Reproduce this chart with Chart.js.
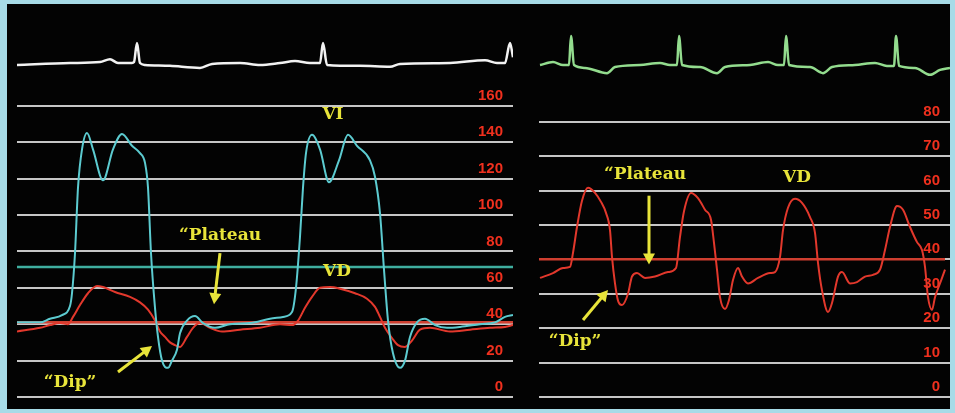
<!DOCTYPE html>
<html>
<head>
<meta charset="utf-8">
<title>Constrictive pericarditis - dip and plateau</title>
<script src="https://cdn.jsdelivr.net/npm/chart.js@4.4.1/dist/chart.umd.min.js"></script>
<style>
  html, body { margin: 0; padding: 0; width: 955px; height: 413px; overflow: hidden; background: #a7dbe7; }
  #panel { position: absolute; left: 7px; top: 4px; width: 943px; height: 405px; background: #030303; }
  .box { position: absolute; }
  #leftBox { left: 17px; top: 10px; width: 496px; height: 407px; }
  #rightBox { left: 539px; top: 5px; width: 411px; height: 412px; }
</style>
</head>
<body>
<div id="panel"></div>
<div class="box" id="leftBox"><canvas id="leftChart"></canvas></div>
<div class="box" id="rightBox"><canvas id="rightChart"></canvas></div>
<script>
// ---- left tracing: LV (VI) + RV (VD), mmHg, time in ms ----
const LEFT_TICKS = [0, 20, 40, 60, 80, 100, 120, 140, 160];

const VI_T = [0, 115, 165, 225, 265, 275, 290, 305, 325, 350, 380, 430, 480, 525, 575, 615, 640, 655, 670, 690, 705, 725, 755, 775, 800, 815, 850, 890, 930, 990, 1065, 1165, 1265, 1330, 1375, 1395, 1415, 1430, 1445, 1475, 1515, 1560, 1610, 1655, 1700, 1765, 1790, 1815, 1835, 1855, 1880, 1915, 1940, 1965, 2000, 2040, 2090, 2150, 2215, 2315, 2390, 2440, 2480];
const VI_P = [41, 41, 43, 45, 50, 57, 79, 115, 136, 145, 136, 119, 136, 144.5, 138, 134, 128.6, 115, 79, 49, 33, 20, 16, 20, 26, 35, 42, 44.5, 40.6, 38, 40, 40.6, 43, 44, 46.7, 60, 88, 115, 134, 144, 136, 118, 130, 144, 138, 130, 121, 101, 70, 42, 24, 16, 20, 33, 41, 43, 39.5, 38, 38.5, 40, 41, 44, 45];

const VD_T = [0, 115, 165, 215, 255, 280, 315, 355, 400, 430, 490, 565, 615, 655, 690, 715, 740, 765, 790, 815, 850, 880, 915, 965, 1025, 1115, 1215, 1315, 1375, 1405, 1440, 1475, 1515, 1565, 1615, 1690, 1750, 1790, 1815, 1840, 1875, 1905, 1940, 1975, 2015, 2065, 2165, 2265, 2365, 2440, 2480];
const VD_P = [36, 38, 39.5, 40.6, 40, 44, 50.5, 57, 61, 60.4, 57.7, 55, 52, 48, 42, 36, 33, 30, 28.5, 27.5, 33, 38, 40.6, 38, 36, 37, 38, 40, 39.5, 42, 49, 55, 60, 60.4, 59.5, 57, 54, 49.5, 44, 38, 32.4, 28.5, 27.5, 31, 37, 38, 36, 37, 38, 38.5, 39.5];

const VI_REF = 71.4;
const VD_REF = 41;

const ECG1_T = [0, 265, 415, 465, 505, 575, 585, 600, 615, 640, 765, 915, 975, 1115, 1215, 1315, 1390, 1465, 1515, 1530, 1550, 1715, 1865, 1915, 2165, 2340, 2400, 2440, 2465, 2480];
const ECG1_V = [-0.1, 0, 0.05, 0.2, 0, 0, 0.05, 1.05, 0, -0.1, -0.15, -0.26, -0.05, 0, -0.1, 0, 0.1, 0, 0, 1.05, -0.1, -0.15, -0.2, -0.05, 0, 0.15, 0, 0, 1.05, 0.3];

// ---- right tracing: RV (VD) alone ----
const RIGHT_TICKS = [0, 10, 20, 30, 40, 50, 60, 70, 80];

const RV_T = [5, 70, 120, 155, 170, 190, 215, 245, 280, 310, 335, 355, 365, 380, 395, 415, 445, 465, 490, 530, 580, 645, 685, 705, 725, 760, 795, 830, 860, 875, 890, 905, 930, 950, 970, 995, 1015, 1045, 1095, 1155, 1180, 1205, 1220, 1245, 1280, 1315, 1355, 1380, 1395, 1415, 1445, 1465, 1495, 1515, 1555, 1590, 1630, 1670, 1705, 1730, 1755, 1790, 1820, 1855, 1890, 1915, 1930, 1945, 1965, 1980, 2005, 2030];
const RV_P = [34.6, 36, 37.5, 37.8, 41.9, 49.4, 57, 60.8, 59.3, 56.7, 53.5, 48.5, 40.7, 33, 28, 26.7, 30, 35, 36, 34.6, 35, 36.3, 37.5, 46.5, 54, 59.3, 57.8, 54.4, 51.5, 44.8, 37, 29, 25.6, 28.2, 34, 37.5, 35, 33, 34.6, 36, 36.3, 40.7, 48.5, 55, 57.6, 56.4, 52.3, 47.7, 39, 31, 24.7, 27.3, 35, 36.3, 33, 33.4, 35, 35.5, 37, 42.7, 49.4, 55.5, 54.4, 49.4, 45, 42.7, 37.8, 29, 25.3, 29, 33, 37];

const RV_REF = 40;

const ECG2_T = [5, 70, 120, 150, 160, 175, 230, 340, 380, 505, 605, 655, 690, 700, 715, 805, 890, 930, 1055, 1145, 1195, 1225, 1235, 1250, 1355, 1420, 1465, 1580, 1680, 1740, 1775, 1785, 1800, 1880, 1955, 2005, 2055];
const ECG2_V = [0, 0.1, 0, 0, 1, 0, -0.1, -0.28, -0.07, 0, 0.07, 0, 0, 1, 0, -0.07, -0.28, -0.07, 0, 0.1, 0, 0, 1, 0, -0.07, -0.28, -0.07, 0, 0.07, -0.03, -0.03, 1, -0.03, -0.1, -0.34, -0.17, -0.1];

// annotations: [text, time, pressure] and arrows [t0, p0, t1, p1]
const LEFT_NOTES = [['VI', 1580, 155], ['\u201CPlateau', 1015, 88.5], ['VD', 1600, 68.7], ['\u201CDip\u201D', 265, 8]];
const LEFT_ARROWS = [[1015, 79, 985, 51], [505, 13.7, 675, 28]];
const RIGHT_NOTES = [['\u201CPlateau', 530, 64.5], ['VD', 1290, 63.7], ['\u201CDip\u201D', 180, 16]];
const RIGHT_ARROWS = [[550, 58.5, 550, 38.5], [220, 22.4, 345, 31.1]];

const TEAL = '#5ccbd0';
const TEAL_REF = '#3fae9f';
const RED = '#e2382c';
const RED_REF = '#cf3f30';
const TICK_RED = '#f0301e';
const YELLOW = '#e8e43a';
const GRID = '#c6c6c6';

const pts = (t, v) => t.map((x, i) => ({ x: x, y: v[i] }));
const flat = (v, t0, t1) => [{ x: t0, y: v }, { x: t1, y: v }];

function drawArrow(ctx, x0, y0, x1, y1) {
  const a = Math.atan2(y1 - y0, x1 - x0);
  const head = 11;
  ctx.lineWidth = 3;
  ctx.beginPath();
  ctx.moveTo(x0, y0);
  ctx.lineTo(x1 - Math.cos(a) * head * 0.8, y1 - Math.sin(a) * head * 0.8);
  ctx.stroke();
  ctx.beginPath();
  ctx.moveTo(x1, y1);
  ctx.lineTo(x1 - head * Math.cos(a) + 6 * Math.sin(a), y1 - head * Math.sin(a) - 6 * Math.cos(a));
  ctx.lineTo(x1 - head * Math.cos(a) - 6 * Math.sin(a), y1 - head * Math.sin(a) + 6 * Math.cos(a));
  ctx.closePath();
  ctx.fill();
}

const notesPlugin = {
  id: 'notes',
  afterDatasetsDraw(chart, args, opts) {
    const { ctx } = chart;
    const x = chart.scales.x, y = chart.scales.y;
    ctx.save();
    ctx.fillStyle = YELLOW;
    ctx.strokeStyle = YELLOW;
    ctx.font = 'bold 17px "DejaVu Serif"';
    ctx.textAlign = 'center';
    ctx.textBaseline = 'middle';
    (opts.labels || []).forEach(n => {
      ctx.fillText(n[0], x.getPixelForValue(n[1]), y.getPixelForValue(n[2]));
    });
    (opts.arrows || []).forEach(a => {
      drawArrow(ctx, x.getPixelForValue(a[0]), y.getPixelForValue(a[1]),
        x.getPixelForValue(a[2]), y.getPixelForValue(a[3]));
    });
    ctx.restore();
  }
};

function line(data, color, width, axis) {
  return {
    data: data,
    borderColor: color,
    borderWidth: width,
    pointRadius: 0,
    cubicInterpolationMode: 'monotone',
    yAxisID: axis || 'y',
    fill: false
  };
}

function makeChart(id, cfg) {
  return new Chart(document.getElementById(id), {
    type: 'line',
    data: { datasets: cfg.datasets },
    options: {
      responsive: true,
      maintainAspectRatio: false,
      animation: false,
      layout: { padding: { top: 20, bottom: 20, left: 0, right: 0 } },
      plugins: {
        legend: { display: false },
        tooltip: { enabled: false },
        notes: { labels: cfg.labels, arrows: cfg.arrows }
      },
      scales: {
        x: { type: 'linear', min: 0, max: cfg.tMax, display: false },
        y: {
          position: 'right',
          min: 0,
          max: cfg.pMax,
          afterBuildTicks: s => { s.ticks = cfg.ticks.map(v => ({ value: v })); },
          grid: { color: GRID, lineWidth: 2, drawTicks: false },
          border: { display: false },
          ticks: {
            mirror: true,
            padding: -10,
            labelOffset: -10,
            color: TICK_RED,
            font: { family: '"Liberation Sans", Arial, sans-serif', size: 15, weight: 'bold' }
          }
        },
        ecg: { display: false, min: cfg.ecgMin, max: cfg.ecgMax }
      }
    },
    plugins: [notesPlugin]
  });
}

makeChart('leftChart', {
  tMax: 2480,
  pMax: 201.6,
  ticks: LEFT_TICKS,
  ecgMin: -17.6,
  ecgMax: 1.74,
  labels: LEFT_NOTES,
  arrows: LEFT_ARROWS,
  datasets: [
    line(pts(VI_T, VI_P), TEAL, 2),
    line(pts(VD_T, VD_P), RED, 2),
    line(pts(ECG1_T, ECG1_V), '#f2f2f2', 2.5, 'ecg'),
    line(flat(VI_REF, 0, 2480), TEAL_REF, 2.5),
    line(flat(VD_REF, 0, 2480), RED_REF, 2.5)
  ]
});

makeChart('rightChart', {
  tMax: 2055,
  pMax: 108.1,
  ticks: RIGHT_TICKS,
  ecgMin: -11.45,
  ecgMax: 1.38,
  labels: RIGHT_NOTES,
  arrows: RIGHT_ARROWS,
  datasets: [
    line(pts(RV_T, RV_P), RED, 2),
    line(pts(ECG2_T, ECG2_V), '#93dc8e', 2.5, 'ecg'),
    line(flat(RV_REF, 0, 2030), RED_REF, 2.5)
  ]
});
</script>
</body>
</html>
